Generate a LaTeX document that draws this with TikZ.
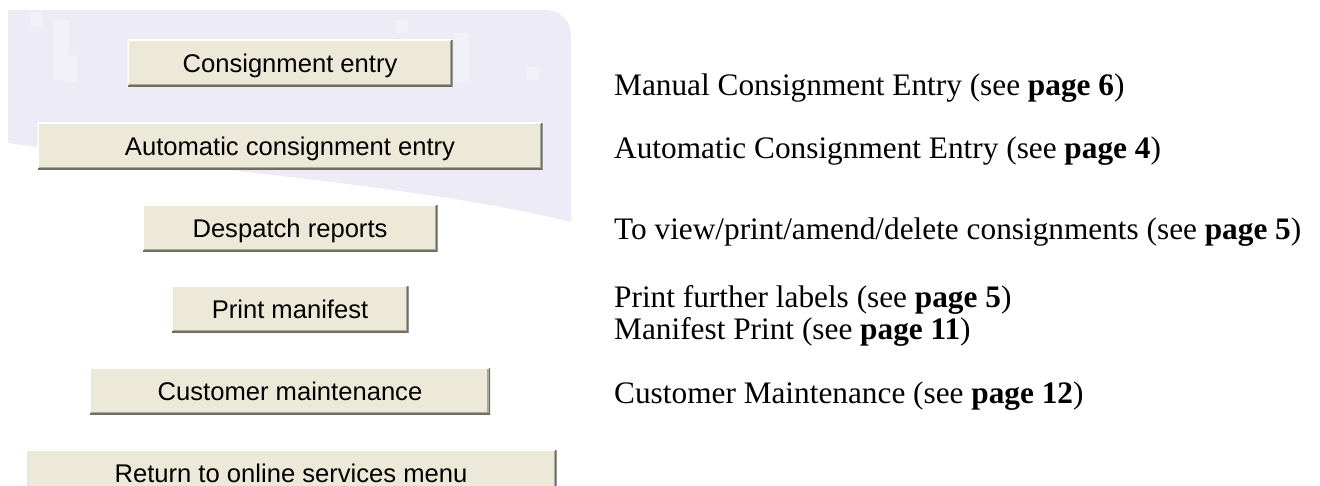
\documentclass[tikz,border=0pt]{standalone}
\usepackage{fontspec}
\setmainfont{Liberation Serif}
\newfontfamily\btnfont{Liberation Sans}

\definecolor{panel}{RGB}{237,235,246}
\definecolor{panellight}{RGB}{242,241,249}
\definecolor{btnface}{RGB}{236,233,216}
\definecolor{btndark}{RGB}{113,111,100}
\definecolor{btnmid}{RGB}{172,168,153}

\begin{document}
\begin{tikzpicture}[x=1pt,y=-1pt,
  btn/.style={fill=btnface, minimum height=47pt, inner sep=0pt,
    font=\btnfont\fontsize{25.6}{30}\selectfont,
    text height=18.3pt, text depth=0pt,
    path picture={
      \draw[white,line width=2.5pt]
        (path picture bounding box.south west) --
        (path picture bounding box.north west) --
        (path picture bounding box.north east);
      \draw[btndark,line width=3pt]
        (path picture bounding box.north east) --
        (path picture bounding box.south east) --
        (path picture bounding box.south west);
      \draw[btnmid,line width=1.5pt]
        ([xshift=-2.25pt,yshift=-1pt]path picture bounding box.north east) --
        ([xshift=-2.25pt,yshift=2.25pt]path picture bounding box.south east) --
        ([xshift=1pt,yshift=2.25pt]path picture bounding box.south west);
    }},
  note/.style={anchor=base west, inner sep=0pt,
    font=\fontsize{31.3}{36}\selectfont},
  speck/.style={fill=panellight}]

\useasboundingbox (0,0) rectangle (1320,486);
\clip (0,0) rectangle (1320,486);

% lavender backdrop behind the upper buttons
\fill[panel] (8,10) -- (545,10) .. controls (560,10) and (571,20) .. (571,36)
  -- (571,222) .. controls (420,185) and (200,170) .. (8,143) -- cycle;
% faint blocky texture of the backdrop
\fill[speck] (31,13) rectangle (42,27);
\fill[speck] (54,20) rectangle (69,80);
\fill[speck] (63,55) rectangle (77,82);
\fill[speck] (396,20) rectangle (408,33);
\fill[speck] (454,33) rectangle (469,83);
\fill[speck] (527,67) rectangle (538,80);

% menu buttons
\node[btn, minimum width=325pt] (b1) at (290,63.5)  {Consignment entry};
\node[btn, minimum width=505pt] (b2) at (290,146.5) {Automatic consignment entry};
\node[btn, minimum width=295pt] (b3) at (290,228.5) {Despatch reports};
\node[btn, minimum width=237pt] (b4) at (290,309.5) {Print manifest};
\node[btn, minimum width=400pt] (b5) at (290,391)   {Customer maintenance};
\node[btn, minimum width=531pt] (b6) at (291,473.5) {Return to online services menu};

% descriptions
\node[note] (t1) at (614,96)  {Manual Consignment Entry (see \textbf{page 6})};
\node[note] (t2) at (614,159) {Automatic Consignment Entry (see \textbf{page 4})};
\node[note] (t3) at (614,240) {To view/print/amend/delete consignments (see \textbf{page 5})};
\node[note] (t4) at (614,308) {Print further labels (see \textbf{page 5})};
\node[note] (t5) at (614,340) {Manifest Print (see \textbf{page 11})};
\node[note] (t6) at (614,403) {Customer Maintenance (see \textbf{page 12})};
\end{tikzpicture}
\end{document}
